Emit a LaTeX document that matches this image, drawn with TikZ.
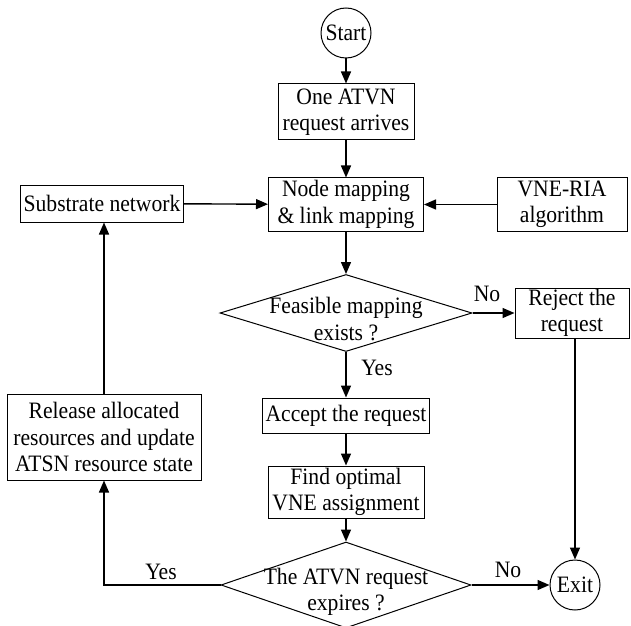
\documentclass[tikz,border=0pt]{standalone}
\usepackage{fontspec}
\setmainfont{Liberation Serif}[FakeStretch=0.92]
\usetikzlibrary{shapes.geometric,arrows.meta}
\begin{document}
\begin{tikzpicture}[x=1pt,y=1pt,
  every node/.style={font=\fontsize{23.5}{26.5}\selectfont},
  box/.style={draw, line width=1pt, rectangle, inner sep=0pt, align=center},
  term/.style={draw, line width=1pt, circle, inner sep=0pt, minimum size=50pt},
  dia/.style={draw, line width=1pt, diamond, inner sep=0pt},
  arr/.style={line width=1.4pt, -{Triangle[length=12pt,width=10pt]}},
  lbl/.style={inner sep=0pt, align=center}]
\useasboundingbox (0,0) rectangle (631,625);
% nodes
\node[term] (start) at (346,592) {Start};
\node[box, minimum width=136pt, minimum height=56pt] (arrive) at (346,513) {One ATVN\\request arrives};
\node[box, minimum width=155pt, minimum height=53pt] (map) at (346,420.5) {Node mapping\\\& link mapping};
\node[box, minimum width=163pt, minimum height=37pt] (sub) at (102,421.5) {Substrate network};
\node[box, minimum width=130pt, minimum height=53pt] (vne) at (562,420.5) {VNE-RIA\\algorithm};
\node[dia, minimum width=252pt, minimum height=77pt] (d1) at (346,312) {};
\node[lbl] (d1t) at ([yshift=-6pt]d1.center) {Feasible mapping\\exists ?};
\node[box, minimum width=114pt, minimum height=50pt] (reject) at (572,312) {Reject the\\request};
\node[box, minimum width=167pt, minimum height=35pt] (accept) at (346,209.5) {Accept the request};
\node[box, minimum width=194pt, minimum height=86pt] (release) at (104,188) {Release allocated\\resources and update\\ATSN resource state};
\node[box, minimum width=156pt, minimum height=52pt] (find) at (346,133) {Find optimal\\VNE assignment};
\node[dia, minimum width=250pt, minimum height=86pt] (d2) at (346,40) {};
\node[lbl] (d2t) at ([yshift=-7pt]d2.center) {The ATVN request\\expires ?};
\node[term] (exit) at (575,40) {Exit};
% labels
\node[lbl] (no1) at (487,331) {No};
\node[lbl] (yes1) at (377,257) {Yes};
\node[lbl] (yes2) at (161,53) {Yes};
\node[lbl] (no2) at (508,55) {No};
% connectors
\draw[arr] (start) -- (arrive);
\draw[arr] (arrive) -- (map);
\draw[arr] (sub) -- (map);
\draw[arr] (vne) -- (map);
\draw[arr] (map) -- (d1);
\draw[arr] (d1.east) -- (reject.west |- d1.east);
\draw[arr] (d1.south) -- (accept.north);
\draw[arr] (accept) -- (find);
\draw[arr] (find) -- (d2.north);
\draw[arr] (d2.east) -- (exit);
\draw[arr] (reject.south -| exit.north) -- (exit.north);
\draw[arr] (d2.west) -| (release.south);
\draw[arr] (release.north) -- (release.north |- sub.south);
\end{tikzpicture}
\end{document}
